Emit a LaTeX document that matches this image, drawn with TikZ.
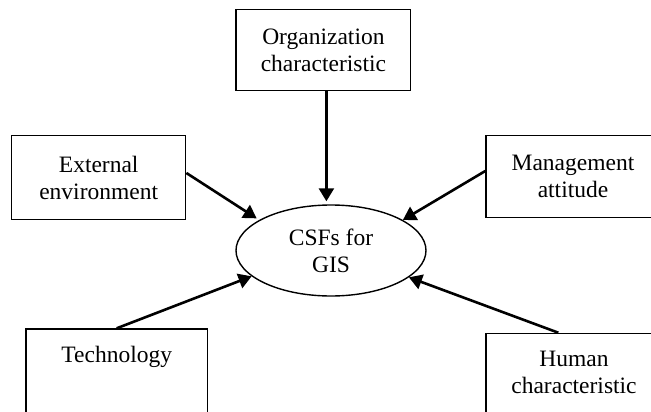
\documentclass[tikz,border=0pt]{standalone}
\usepackage{fontspec}
\setmainfont{Liberation Serif}
\usetikzlibrary{arrows.meta,shapes.geometric}

\begin{document}
\begin{tikzpicture}[x=1pt,y=-1pt,
  box/.style={draw,line width=1.4pt,rectangle,inner sep=0pt,align=center,
    font=\fontsize{23.5}{27}\selectfont},
  arr/.style={-{Triangle[length=13pt,width=15pt]},line width=2.6pt}]
\useasboundingbox (0,0) rectangle (651,412);
\clip (0,0) rectangle (651,412);
\node[box,minimum width=174.7pt,minimum height=81.4pt] (org) at (323.4,50) {Organization\\characteristic};
\node[box,minimum width=174pt,minimum height=83.6pt] (ext) at (98.7,177.5) {External\\environment};
\node[box,minimum width=174pt,minimum height=82pt] (mgmt) at (573,176.7) {Management\\attitude};
\node[box,ellipse,minimum width=190pt,minimum height=91pt] (csf) at (331,250.5) {CSFs for\\GIS};
\node[box,anchor=north,minimum width=181.3pt,minimum height=104.8pt] (tech) at (116.7,328.3) {Technology\\ \mbox{}\\ \mbox{}};
\node[box,anchor=north,minimum width=176pt,minimum height=105.6pt] (hum) at (574,332.7) {Human\\characteristic\\ \mbox{}};
\draw[arr,shorten >=3pt] ([xshift=3pt]org.south) -- ([xshift=3pt]org.south |- csf.north);
\draw[arr,shorten >=3pt] ([yshift=4.5pt]ext.east) -- (csf.157.5);
\draw[arr] ([yshift=5.7pt]mgmt.west) -- (csf.23.8);
\draw[arr] (tech.north) -- (csf.198.8);
\draw[arr] ([xshift=-15.7pt]hum.north) -- (csf.341.5);
\end{tikzpicture}
\end{document}
